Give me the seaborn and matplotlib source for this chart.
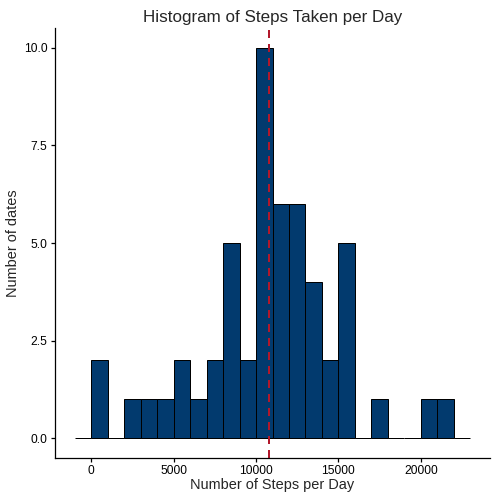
import numpy as np
import pandas as pd
import seaborn as sns
import matplotlib
matplotlib.use("Agg")
import matplotlib.pyplot as plt

bin_left = list(range(-1000, 23000, 1000))
counts = [0, 2, 0, 1, 1, 1, 2, 1, 2, 5, 2, 10, 6, 6, 4, 2, 5, 0, 1, 0, 0, 1, 1, 0]
mean_steps = 10766

sns.set_theme(style="white")
plt.rcParams['font.family'] = ['Liberation Sans', 'DejaVu Sans']

df = pd.DataFrame({"x": [b + 500 for b in bin_left], "w": counts})
edges = bin_left + [bin_left[-1] + 1000]

fig = plt.figure(figsize=(7, 7), dpi=72)
ax = fig.add_axes([55/504, 46/504, 435/504, 430/504])
sns.histplot(data=df, x="x", weights="w", bins=edges, color="#023a6e", alpha=1,
             edgecolor="black", linewidth=1, ax=ax)
ax.axvline(mean_steps, color="#b2182b", linestyle=(0, (4, 3)), linewidth=2)
ax.set_xlim(-2200, 24200)
ax.set_ylim(-0.5, 10.5)
ax.set_yticks([0, 2.5, 5, 7.5, 10])
ax.set_yticklabels(["0.0", "2.5", "5.0", "7.5", "10.0"])
ax.set_xticks([0, 5000, 10000, 15000, 20000])
for s in ["top", "right"]:
    ax.spines[s].set_visible(False)
for s in ["left", "bottom"]:
    ax.spines[s].set_color("black")
ax.tick_params(axis="both", colors="black", labelsize=12, length=4, direction="out",
               bottom=True, left=True)
ax.set_xlabel("Number of Steps per Day", fontsize=14.5, labelpad=1)
ax.set_ylabel("Number of dates", fontsize=14.5)
ax.set_title("Histogram of Steps Taken per Day", fontsize=17)
fig.savefig("out.png", dpi=72)
